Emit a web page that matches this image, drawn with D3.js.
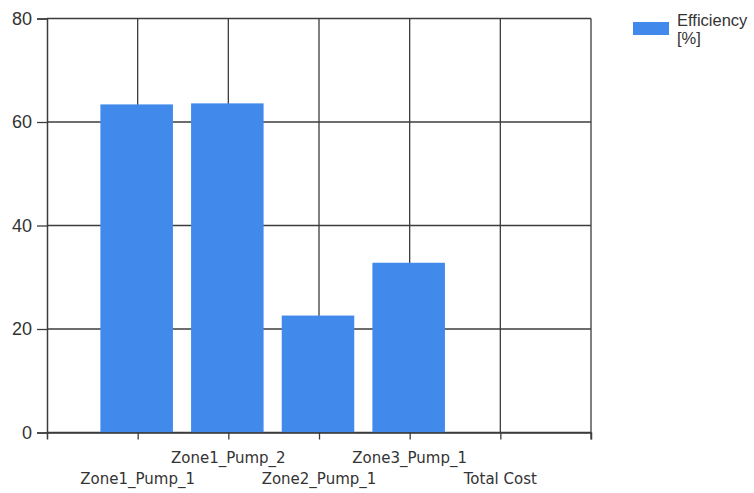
<!DOCTYPE html>
<html>
<head>
<meta charset="utf-8">
<script src="https://cdn.jsdelivr.net/npm/d3@7"></script>
<style>
  html, body { margin: 0; padding: 0; background: #fff; }
  svg { display: block; }
</style>
</head>
<body>
<svg id="chart" width="754" height="493"></svg>
<script>
// Pump efficiency per station
const categories = ["Zone1_Pump_1", "Zone1_Pump_2", "Zone2_Pump_1", "Zone3_Pump_1", "Total Cost"];
const efficiency = [63.4, 63.6, 22.6, 32.8, null];
const yTicks = [0, 20, 40, 60, 80];
const seriesName = ["Efficiency", "[%]"];

const W = 754, H = 493;
const plot = { left: 47, right: 591, top: 18.5, bottom: 432.5 };
const gridColor = "#3c3c3c";
const barColor = "#418aec";
const textColor = "#333";

const svg = d3.select("#chart");

const x = d3.scalePoint()
  .domain(categories)
  .range([plot.left, plot.right])
  .padding(1);

const y = d3.scaleLinear()
  .domain([0, 80])
  .range([plot.bottom, plot.top]);

const barW = x.step() * 0.8;

// horizontal grid lines
svg.append("g")
  .selectAll("line")
  .data(yTicks)
  .join("line")
  .attr("x1", plot.left).attr("x2", plot.right)
  .attr("y1", d => y(d)).attr("y2", d => y(d))
  .attr("stroke", gridColor).attr("stroke-width", 1.3);

// vertical grid lines at each category, plus the right border
svg.append("g")
  .selectAll("line")
  .data(categories)
  .join("line")
  .attr("x1", d => x(d)).attr("x2", d => x(d))
  .attr("y1", plot.top).attr("y2", plot.bottom)
  .attr("stroke", gridColor).attr("stroke-width", 1.3);

svg.append("line")
  .attr("x1", plot.right).attr("x2", plot.right)
  .attr("y1", plot.top).attr("y2", plot.bottom + 7)
  .attr("stroke", gridColor).attr("stroke-width", 1.3);

// bars
svg.append("g")
  .selectAll("rect")
  .data(categories.map((c, i) => ({ c, v: efficiency[i] })).filter(d => d.v != null))
  .join("rect")
  .attr("x", d => x(d.c) - barW / 2 - 1)
  .attr("width", barW)
  .attr("y", d => y(d.v))
  .attr("height", d => y(0) - y(d.v))
  .attr("fill", barColor);

// y axis
const yAxis = svg.append("g")
  .attr("transform", `translate(${plot.left},0)`)
  .call(d3.axisLeft(y).tickValues(yTicks).tickSize(10).tickPadding(5).tickFormat(d3.format("d")));
yAxis.select(".domain").attr("stroke", gridColor).attr("stroke-width", 1.5);
yAxis.selectAll(".tick line").attr("stroke", gridColor).attr("stroke-width", 1.3);
yAxis.selectAll(".tick text")
  .attr("fill", textColor)
  .style("font-family", "'Liberation Sans', Arial, sans-serif")
  .style("font-size", "18px");

// x axis with staggered labels
const xAxis = svg.append("g")
  .attr("transform", `translate(0,${plot.bottom})`)
  .call(d3.axisBottom(x).tickSize(7).tickSizeOuter(7).tickFormat(""));
xAxis.select(".domain").attr("stroke", gridColor).attr("stroke-width", 1.5);
xAxis.selectAll(".tick line").attr("stroke", gridColor).attr("stroke-width", 1.3);

svg.append("g")
  .selectAll("text")
  .data(categories)
  .join("text")
  .attr("x", d => x(d))
  .attr("y", (d, i) => i % 2 === 1 ? 463 : 484)
  .attr("text-anchor", "middle")
  .attr("fill", textColor)
  .style("font-family", "'DejaVu Sans', Verdana, sans-serif")
  .style("font-size", "15px")
  .text(d => d);

// legend
const legend = svg.append("g");
legend.append("rect")
  .attr("x", 633).attr("y", 22)
  .attr("width", 36).attr("height", 13)
  .attr("fill", barColor);
legend.selectAll("text")
  .data(seriesName)
  .join("text")
  .attr("x", 677)
  .attr("y", (d, i) => 26 + i * 18)
  .attr("fill", textColor)
  .style("font-family", "'Liberation Sans', Arial, sans-serif")
  .style("font-size", "16.5px")
  .text(d => d);
</script>
</body>
</html>
